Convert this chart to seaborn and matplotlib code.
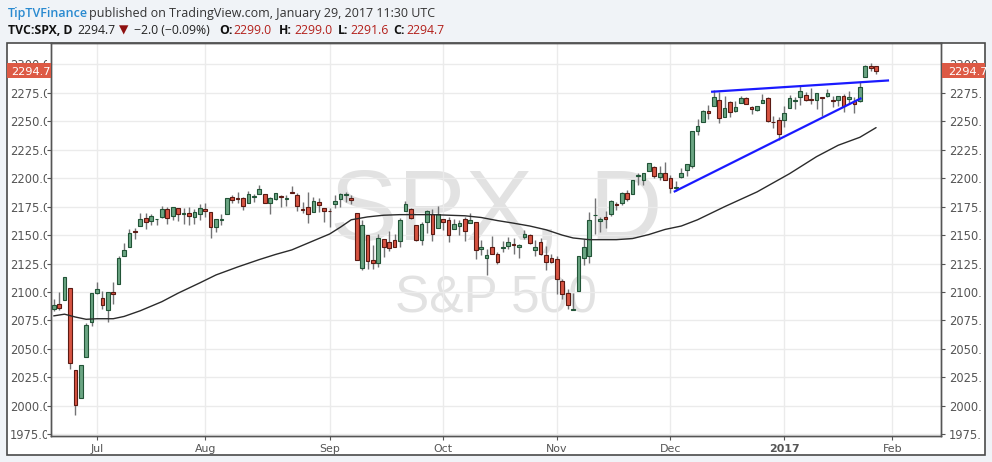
import numpy as np
import pandas as pd
import matplotlib
matplotlib.use("Agg")
import matplotlib.pyplot as plt
import seaborn as sns
from matplotlib.patches import Rectangle
from matplotlib.transforms import Bbox, TransformedBbox

# daily S&P 500 bars (Jun 21 2016 - Jan 27 2017)
dates = [
    "2016-06-21", "2016-06-22", "2016-06-23", "2016-06-24", "2016-06-27", "2016-06-28", "2016-06-29", "2016-06-30",
    "2016-07-01", "2016-07-05", "2016-07-06", "2016-07-07", "2016-07-08", "2016-07-11", "2016-07-12", "2016-07-13",
    "2016-07-14", "2016-07-15", "2016-07-18", "2016-07-19", "2016-07-20", "2016-07-21", "2016-07-22", "2016-07-25",
    "2016-07-26", "2016-07-27", "2016-07-28", "2016-07-29",
    "2016-08-01", "2016-08-02", "2016-08-03", "2016-08-04", "2016-08-05", "2016-08-08", "2016-08-09", "2016-08-10",
    "2016-08-11", "2016-08-12", "2016-08-15", "2016-08-16", "2016-08-17", "2016-08-18", "2016-08-19", "2016-08-22",
    "2016-08-23", "2016-08-24", "2016-08-25", "2016-08-26", "2016-08-29", "2016-08-30", "2016-08-31",
    "2016-09-01", "2016-09-02", "2016-09-06", "2016-09-07", "2016-09-08", "2016-09-09", "2016-09-12", "2016-09-13",
    "2016-09-14", "2016-09-15", "2016-09-16", "2016-09-19", "2016-09-20", "2016-09-21", "2016-09-22", "2016-09-23",
    "2016-09-26", "2016-09-27", "2016-09-28", "2016-09-29", "2016-09-30",
    "2016-10-03", "2016-10-04", "2016-10-05", "2016-10-06", "2016-10-07", "2016-10-10", "2016-10-11", "2016-10-12",
    "2016-10-13", "2016-10-14", "2016-10-17", "2016-10-18", "2016-10-19", "2016-10-20", "2016-10-21", "2016-10-24",
    "2016-10-25", "2016-10-26", "2016-10-27", "2016-10-28", "2016-10-31",
    "2016-11-01", "2016-11-02", "2016-11-03", "2016-11-04", "2016-11-07", "2016-11-08", "2016-11-09", "2016-11-10",
    "2016-11-11", "2016-11-14", "2016-11-15", "2016-11-16", "2016-11-17", "2016-11-18", "2016-11-21", "2016-11-22",
    "2016-11-23", "2016-11-25", "2016-11-28", "2016-11-29", "2016-11-30",
    "2016-12-01", "2016-12-02", "2016-12-05", "2016-12-06", "2016-12-07", "2016-12-08", "2016-12-09", "2016-12-12",
    "2016-12-13", "2016-12-14", "2016-12-15", "2016-12-16", "2016-12-19", "2016-12-20", "2016-12-21", "2016-12-22",
    "2016-12-23", "2016-12-27", "2016-12-28", "2016-12-29", "2016-12-30",
    "2017-01-03", "2017-01-04", "2017-01-05", "2017-01-06", "2017-01-09", "2017-01-10", "2017-01-11", "2017-01-12",
    "2017-01-13", "2017-01-17", "2017-01-18", "2017-01-19", "2017-01-20", "2017-01-23", "2017-01-24", "2017-01-25",
    "2017-01-26", "2017-01-27",
]
opens = [
    2085.2, 2089.8, 2092.8, 2103.8, 2031.5, 2006.7, 2042.7, 2073.2,
    2099.3, 2095.1, 2084.4, 2100.4, 2107.0, 2131.7, 2139.5, 2153.8, 2157.9, 2165.1, 2162.0, 2163.8,
    2166.1, 2172.9, 2166.5, 2173.7, 2169.0, 2169.8, 2166.1, 2168.8,
    2173.2, 2169.9, 2156.8, 2163.5, 2168.8, 2183.8, 2182.2, 2182.8, 2178.0, 2183.7, 2186.1, 2186.2,
    2177.8, 2181.9, 2184.2, 2181.6, 2187.8, 2185.1, 2173.3, 2175.1, 2170.2, 2179.5, 2173.6,
    2171.3, 2177.5, 2181.6, 2185.2, 2182.8, 2169.1, 2120.9, 2150.5, 2127.9, 2125.4, 2146.5, 2144.0,
    2145.9, 2144.6, 2170.9, 2173.3, 2158.5, 2146.0, 2161.9, 2168.9, 2156.5,
    2164.3, 2163.4, 2155.2, 2158.2, 2164.2, 2160.4, 2161.4, 2137.7, 2130.3, 2139.7, 2133.0, 2138.3,
    2140.8, 2142.5, 2139.4, 2148.5, 2149.7, 2137.0, 2144.1, 2132.2, 2129.8,
    2128.7, 2109.4, 2098.8, 2083.8, 2100.6, 2129.9, 2131.6, 2167.5, 2162.7, 2165.6, 2168.3, 2177.5,
    2178.6, 2186.9, 2186.4, 2201.6, 2198.6, 2206.3, 2210.2, 2200.8, 2205.0,
    2200.2, 2191.1, 2200.7, 2207.3, 2210.7, 2241.1, 2249.7, 2258.8, 2263.3, 2268.4, 2253.8, 2266.8,
    2259.2, 2266.5, 2270.5, 2262.9, 2260.3, 2266.2, 2270.2, 2249.5, 2251.6,
    2251.6, 2261.6, 2268.2, 2271.1, 2273.6, 2269.7, 2268.6, 2271.1, 2272.7, 2269.1, 2269.1, 2271.9,
    2270.0, 2267.8, 2267.9, 2288.9, 2298.6, 2299.0,
]
highs = [
    2093.7, 2099.7, 2113.3, 2103.8, 2031.5, 2036.1, 2073.1, 2098.9,
    2108.7, 2100.7, 2100.3, 2109.1, 2131.7, 2143.2, 2155.4, 2156.5, 2169.1, 2169.1, 2168.4, 2164.6,
    2175.6, 2174.6, 2175.1, 2173.7, 2173.5, 2175.0, 2172.9, 2177.1,
    2178.3, 2170.2, 2163.8, 2168.2, 2182.9, 2185.4, 2187.7, 2183.4, 2188.5, 2186.3, 2193.8, 2186.2,
    2183.1, 2187.0, 2185.0, 2185.2, 2193.4, 2186.7, 2179.0, 2187.9, 2183.5, 2182.3, 2173.8,
    2173.6, 2184.9, 2186.6, 2187.9, 2184.9, 2169.1, 2163.3, 2150.5, 2141.3, 2151.3, 2146.5, 2153.6,
    2150.8, 2165.1, 2180.0, 2173.8, 2158.5, 2161.1, 2172.4, 2172.7, 2175.3,
    2164.4, 2165.5, 2164.0, 2162.9, 2165.9, 2169.6, 2161.6, 2145.4, 2138.2, 2149.2, 2135.6, 2144.4,
    2148.4, 2147.2, 2142.6, 2154.8, 2151.4, 2145.7, 2147.1, 2140.7, 2133.3,
    2131.5, 2111.8, 2102.6, 2099.1, 2132.0, 2146.9, 2170.1, 2182.3, 2165.9, 2171.4, 2180.8, 2179.2,
    2188.1, 2189.9, 2198.7, 2204.8, 2204.7, 2213.4, 2211.1, 2210.5, 2214.1,
    2202.6, 2198.0, 2209.4, 2212.8, 2241.6, 2251.7, 2259.8, 2264.0, 2277.5, 2276.2, 2272.1, 2268.1,
    2267.5, 2272.6, 2271.2, 2263.2, 2263.8, 2273.8, 2271.3, 2254.5, 2253.6,
    2263.9, 2272.8, 2271.5, 2282.1, 2275.5, 2279.3, 2275.3, 2271.8, 2278.7, 2272.1, 2272.0, 2274.3,
    2277.0, 2271.8, 2284.6, 2299.6, 2301.0, 2299.0,
]
lows = [
    2083.0, 2084.4, 2092.8, 2032.6, 1991.7, 2006.7, 2042.7, 2070.0,
    2097.9, 2085.3, 2074.0, 2089.4, 2107.0, 2131.7, 2139.5, 2146.2, 2157.9, 2155.8, 2159.1, 2159.0,
    2164.9, 2159.8, 2163.2, 2162.0, 2160.2, 2159.1, 2159.7, 2163.5,
    2166.2, 2147.6, 2152.9, 2159.1, 2168.8, 2177.9, 2178.6, 2172.0, 2178.0, 2179.4, 2186.1, 2178.1,
    2168.5, 2180.5, 2175.1, 2176.0, 2186.8, 2171.3, 2169.7, 2160.4, 2170.2, 2170.4, 2161.4,
    2157.1, 2173.6, 2175.1, 2179.1, 2177.5, 2127.8, 2119.1, 2120.3, 2119.9, 2122.4, 2131.2, 2135.9,
    2139.2, 2139.6, 2170.9, 2164.0, 2145.0, 2141.6, 2151.8, 2145.2, 2156.5,
    2154.8, 2144.0, 2155.2, 2150.3, 2144.9, 2160.4, 2128.8, 2132.8, 2114.7, 2133.0, 2124.4, 2135.5,
    2138.2, 2133.4, 2130.1, 2146.9, 2141.9, 2131.6, 2132.5, 2119.4, 2125.5,
    2097.9, 2094.0, 2085.2, 2083.8, 2100.6, 2123.6, 2125.4, 2151.2, 2152.5, 2156.1, 2166.4, 2172.2,
    2176.7, 2180.4, 2186.4, 2194.5, 2194.5, 2206.3, 2200.4, 2198.2, 2198.8,
    2187.4, 2188.4, 2200.0, 2202.2, 2208.9, 2237.6, 2249.2, 2252.4, 2263.3, 2248.4, 2253.8, 2254.2,
    2258.2, 2266.1, 2265.2, 2256.1, 2258.8, 2266.2, 2249.1, 2244.6, 2233.6,
    2245.1, 2261.6, 2260.5, 2264.1, 2268.0, 2265.3, 2260.8, 2254.3, 2271.5, 2262.8, 2263.4, 2258.4,
    2265.0, 2257.0, 2266.7, 2288.9, 2294.1, 2291.6,
]
closes = [
    2088.9, 2085.5, 2113.3, 2037.4, 2000.5, 2036.1, 2070.8, 2098.9,
    2103.0, 2088.6, 2099.7, 2097.9, 2129.9, 2137.2, 2152.1, 2152.4, 2163.8, 2161.7, 2166.9, 2163.8,
    2173.0, 2165.2, 2175.0, 2168.5, 2169.2, 2166.6, 2170.1, 2173.6,
    2170.8, 2157.0, 2163.8, 2164.3, 2182.9, 2180.9, 2181.7, 2175.5, 2185.8, 2184.1, 2190.2, 2178.2,
    2182.2, 2187.0, 2183.9, 2182.6, 2186.9, 2175.4, 2172.5, 2169.0, 2180.4, 2176.1, 2171.0,
    2170.9, 2180.0, 2186.5, 2186.2, 2181.3, 2127.8, 2159.0, 2127.0, 2125.8, 2147.3, 2139.2, 2139.1,
    2139.8, 2163.1, 2177.2, 2164.7, 2146.1, 2159.9, 2171.4, 2151.1, 2168.3,
    2161.2, 2150.5, 2159.7, 2160.8, 2153.7, 2163.7, 2136.7, 2139.2, 2132.6, 2133.0, 2126.5, 2139.6,
    2144.3, 2141.3, 2141.2, 2151.3, 2143.2, 2139.4, 2133.0, 2126.4, 2126.2,
    2111.7, 2097.9, 2088.7, 2085.2, 2131.5, 2139.6, 2163.3, 2167.5, 2164.5, 2164.2, 2180.4, 2176.9,
    2187.1, 2181.9, 2198.2, 2202.9, 2204.7, 2213.4, 2201.7, 2204.7, 2198.8,
    2191.1, 2192.0, 2204.7, 2212.2, 2241.4, 2246.2, 2259.5, 2257.0, 2271.7, 2253.3, 2262.0, 2258.1,
    2262.5, 2270.8, 2265.2, 2261.0, 2263.8, 2268.9, 2249.9, 2249.3, 2238.8,
    2257.8, 2270.8, 2269.0, 2277.0, 2268.9, 2268.9, 2275.3, 2270.4, 2274.6, 2267.9, 2271.9, 2263.7,
    2271.3, 2265.2, 2280.1, 2298.4, 2296.7, 2294.7,
]

# moving average (black line), read at bar positions
ma_bar = [0, 2, 4, 6, 8, 11, 13, 16, 20, 23, 27, 30, 34, 38, 41, 44, 47, 51, 53, 55, 58, 61, 64,
          70, 76, 79, 82, 85, 88, 91, 94, 96, 99, 104, 107, 110, 113, 116, 119, 124, 130, 136,
          141, 145, 149, 152]
ma_value = [2079.0, 2080.5, 2078.0, 2076.0, 2076.5, 2076.5, 2078.5, 2083.5, 2091.5, 2099.0, 2108.0,
            2115.0, 2122.0, 2128.5, 2133.0, 2137.0, 2143.0, 2151.0, 2157.0, 2163.5, 2166.0, 2167.5,
            2168.0, 2168.0, 2167.0, 2165.5, 2162.8, 2160.5, 2158.0, 2154.7, 2150.0, 2147.5, 2146.0,
            2146.0, 2147.0, 2150.5, 2155.0, 2158.0, 2163.5, 2175.0, 2188.0, 2204.0, 2219.0, 2229.0,
            2236.0, 2244.5]

# hand-drawn blue trend lines (bar position, price)
upper_bar = [121.5, 154.4]
upper_price = [2276.0, 2286.0]
lower_bar = [114.6, 149.3]
lower_price = [2188.0, 2270.5]

price_ticks = [1975, 2000, 2025, 2050, 2075, 2100, 2125, 2150, 2175, 2200, 2225, 2250, 2275, 2300]
month_labels = ["Jul", "Aug", "Sep", "Oct", "Nov", "Dec", "2017", "Feb"]

df = pd.DataFrame({"date": pd.to_datetime(dates), "open": opens, "high": highs,
                   "low": lows, "close": closes})
df["bar"] = np.arange(len(df))
up = df["close"] >= df["open"]

# first bar of every month, plus Feb 1 (3 sessions after the last bar)
month_pos = list(df.groupby(df["date"].dt.to_period("M"))["bar"].first().iloc[1:])
month_pos.append(len(df) - 1 + len(pd.bdate_range(df["date"].iloc[-1] + pd.Timedelta(days=1), "2017-02-01")))

sns.set_style("white")
plt.rcParams["font.family"] = ["DejaVu Sans"]

W, H = 992, 462
fig = plt.figure(figsize=(W / 100, H / 100), dpi=100)
fig.patch.set_facecolor("#f0f3f7")


def fx(px):
    return px / W


def fy(py):
    return 1 - py / H


fig.add_artist(Rectangle((fx(7), fy(455)), fx(985) - fx(7), fy(43) - fy(455),
                         transform=fig.transFigure, facecolor="white",
                         edgecolor="#4a4a4a", lw=1.2, zorder=0))

ax = fig.add_axes([fx(51), fy(436), fx(941) - fx(51), fy(43) - fy(436)])
ax.set_facecolor("white")

# watermark
ax.text(0.5, 0.499, "SPX, D", transform=ax.transAxes, ha="center", va="baseline",
        fontsize=73, color="#e2e2e2", family="Liberation Sans", zorder=0)
ax.text(0.5, 0.313, "S&P 500", transform=ax.transAxes, ha="center", va="baseline",
        fontsize=37, color="#e2e2e2", family="Liberation Sans", zorder=0)

# candles
ax.vlines(df["bar"], df["low"], df["high"], color="#737375", lw=1, zorder=2)
body = (df["close"] - df["open"]).abs()
bottom = df[["open", "close"]].min(axis=1)
ax.bar(df["bar"][up], body[up], bottom=bottom[up], width=0.68, color="#6ba583",
       edgecolor="#225437", lw=0.8, zorder=3)
ax.bar(df["bar"][~up], body[~up], bottom=bottom[~up], width=0.68, color="#d75442",
       edgecolor="#5b1a13", lw=0.8, zorder=3)

sns.lineplot(x=ma_bar, y=ma_value, color="#2b2b2b", lw=1, ax=ax, zorder=4)
ax.plot(upper_bar, upper_price, color="#1a1aff", lw=1.6, zorder=5, solid_capstyle="butt")
ax.plot(lower_bar, lower_price, color="#1a1aff", lw=1.6, zorder=5, solid_capstyle="butt")

ax.set_xlim(-0.5, 164.0)
ax.set_ylim(1973.4, 2318.9)
ax.set_xticks(month_pos, month_labels)
ax.get_xticklabels()[6].set_fontweight("bold")
ax.set_yticks(price_ticks, [f"{v:.1f}" for v in price_ticks], ha="left")
ax.grid(True, color="#ebebeb", lw=1)
ax.set_axisbelow(True)
ax.set_xlabel("")
ax.set_ylabel("")
ax.tick_params(axis="x", direction="out", length=3, color="#555555", labelcolor="#555555",
               labelsize=7.9, pad=2.9, bottom=True)
ax.tick_params(axis="y", direction="out", length=3, color="#555555", labelcolor="#555555",
               labelsize=8.3, pad=26.6, left=True, right=False, labelleft=True, labelright=False)
for s in ax.spines.values():
    s.set_color("#555555")
    s.set_linewidth(1)

ax2 = ax.twinx()
ax2.set_ylim(ax.get_ylim())
ax2.set_yticks(price_ticks, [f"{v:.1f}" for v in price_ticks], ha="left")
ax2.tick_params(axis="y", direction="out", length=3, color="#555555", labelcolor="#555555",
                labelsize=8.3, pad=2.9, right=True, labelright=True)
ax2.grid(False)
for s in ax2.spines.values():
    s.set_color("#555555")
    s.set_linewidth(1)

left_clip = TransformedBbox(Bbox.from_extents(0, 0, fx(46.5), 1), fig.transFigure)
right_clip = TransformedBbox(Bbox.from_extents(0, 0, fx(981), 1), fig.transFigure)
for t in ax.yaxis.get_major_ticks():
    t.label1.set_clip_on(True)
    t.label1.set_clip_box(left_clip)
for t in ax2.yaxis.get_major_ticks():
    t.label2.set_clip_on(True)
    t.label2.set_clip_box(right_clip)

# last price tags on both price scales
last = closes[-1]
fig.canvas.draw()
y_last = ax.transData.transform((0, last))[1] / H
tag_h = 15 / H
for x0, x1, xt in [(7, 50.5, 11), (941.5, 985, 948)]:
    fig.add_artist(Rectangle((fx(x0), y_last - tag_h / 2), fx(x1) - fx(x0), tag_h,
                             transform=fig.transFigure, facecolor="#dd5a45",
                             edgecolor="none", zorder=5))
    fig.text(fx(xt), y_last, f"{last:.1f}", color="white", fontsize=8.2,
             ha="left", va="center_baseline", zorder=6)

# header
chg = closes[-1] - closes[-2]
pct = chg / closes[-2] * 100
hdr_font = ["Open Sans", "DejaVu Sans"]
fig.text(fx(8), fy(16.5), "TipTVFinance", color="#2a8ad0", fontsize=9.0, family=hdr_font,
         fontweight="semibold", va="baseline")
fig.text(fx(89), fy(16.5), "published on TradingView.com, January 29, 2017 11:30 UTC",
         color="#333333", fontsize=9.0, family=hdr_font, va="baseline")
pieces = [
    ("TVC:SPX, D", 8, "#111111", "bold"),
    (f"{closes[-1]:.1f}", 77, "#222222", "normal"),
    ("\u25bc", 119, "#8e1010", "normal"),
    (f"\u2212{abs(chg):.1f} (\u2212{abs(pct):.2f}%)", 134, "#222222", "normal"),
    ("O:", 219, "#111111", "bold"),
    (f"{opens[-1]:.1f}", 233, "#b3201b", "normal"),
    ("H:", 279, "#111111", "bold"),
    (f"{highs[-1]:.1f}", 294, "#b3201b", "normal"),
    ("L:", 338, "#111111", "bold"),
    (f"{lows[-1]:.1f}", 350, "#b3201b", "normal"),
    ("C:", 393, "#111111", "bold"),
    (f"{closes[-1]:.1f}", 406, "#b3201b", "normal"),
]
for txt, xp, col, wt in pieces:
    fig.text(fx(xp), fy(34), txt, color=col, fontsize=8.8, family=hdr_font,
             fontweight=wt, va="baseline")

fig.savefig("out.png", dpi=100, facecolor=fig.get_facecolor())
